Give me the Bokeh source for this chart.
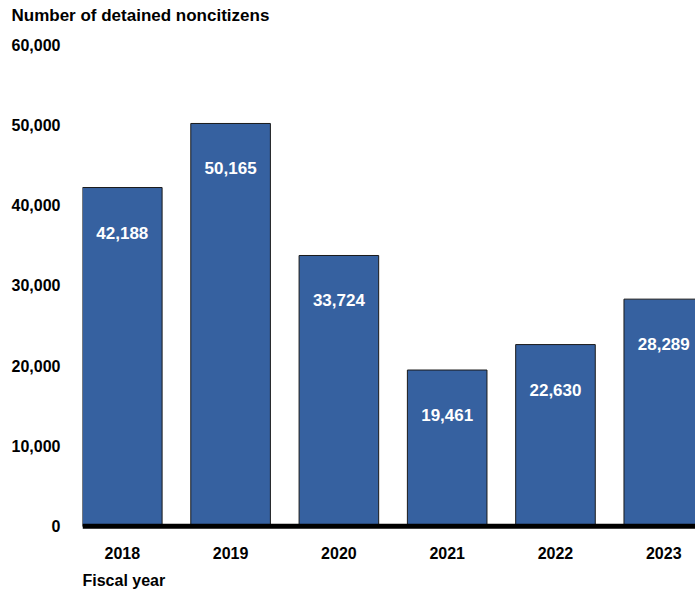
from bokeh.plotting import figure
from bokeh.models import (ColumnDataSource, FixedTicker, NumeralTickFormatter,
                          Range1d, Span, Title, LinearAxis)
from bokeh.core.properties import value
from bokeh.embed import file_html
from bokeh.resources import INLINE

years = ["2018", "2019", "2020", "2021", "2022", "2023"]
detained = [42188, 50165, 33724, 19461, 22630, 28289]
y_ticks = [0, 10000, 20000, 30000, 40000, 50000, 60000]

FONT = "Liberation Sans"
BAR = "#3661A0"

xs = list(range(len(years)))
src = ColumnDataSource(dict(
    x=xs, top=detained,
    label=[f"{v:,}" for v in detained],
))

p = figure(width=695, height=596, output_backend="svg", toolbar_location=None,
           x_range=Range1d(-0.3675, 5.293), y_range=Range1d(-400, 60000),
           min_border_left=82, min_border_right=0, min_border_top=44,
           min_border_bottom=67, title="Number of detained noncitizens")

xa = p.below[0]
ya = p.left[0]

p.vbar(x="x", top="top", bottom=0, width=0.735, source=src,
       fill_color=BAR, line_color="#1a1a1a", line_width=1)

p.text(x="x", y="top", text="label", source=src, y_offset=45,
       text_align="center", text_baseline="middle", text_color="white",
       text_font=value(FONT), text_font_style="bold", text_font_size="17px")

p.add_layout(Span(location=0, dimension="width", line_color="black",
                  line_width=5))

p.grid.visible = False
p.outline_line_color = None

# invisible spacer axis between the frame and the title
spacer = LinearAxis(ticker=FixedTicker(ticks=xs), axis_line_color=None,
                    major_tick_line_color="white", minor_tick_line_color=None,
                    major_tick_out=20, major_tick_in=0, minor_tick_out=0,
                    major_label_standoff=0, major_label_text_font_size="1px",
                    major_label_overrides={i: "" for i in xs})
p.add_layout(spacer, "above")

p.title.text_font = FONT
p.title.text_font_size = "17px"
p.title.text_font_style = "bold"
p.title.text_color = "black"
p.title.align = "left"
p.title.offset = -71
p.title.standoff = 0

ya.ticker = FixedTicker(ticks=y_ticks)
ya.formatter = NumeralTickFormatter(format="0,0")
ya.axis_line_color = None
ya.major_tick_line_color = None
ya.minor_tick_line_color = None
ya.major_label_standoff = 16
ya.major_label_text_font = FONT
ya.major_label_text_font_size = "16px"
ya.major_label_text_font_style = "bold"
ya.major_label_text_color = "black"

xa.ticker = FixedTicker(ticks=xs)
xa.major_label_overrides = {i: y for i, y in zip(xs, years)}
xa.axis_line_color = None
xa.major_tick_line_color = None
xa.minor_tick_line_color = None
xa.major_label_standoff = 11
xa.major_label_text_font = FONT
xa.major_label_text_font_size = "16px"
xa.major_label_text_font_style = "bold"
xa.major_label_text_color = "black"

xt = Title(text="Fiscal year", align="left", offset=0, standoff=16,
           text_font=FONT, text_font_size="16px", text_font_style="bold",
           text_color="black")
p.add_layout(xt, "below")

open("out.html", "w").write(file_html(p, INLINE))
